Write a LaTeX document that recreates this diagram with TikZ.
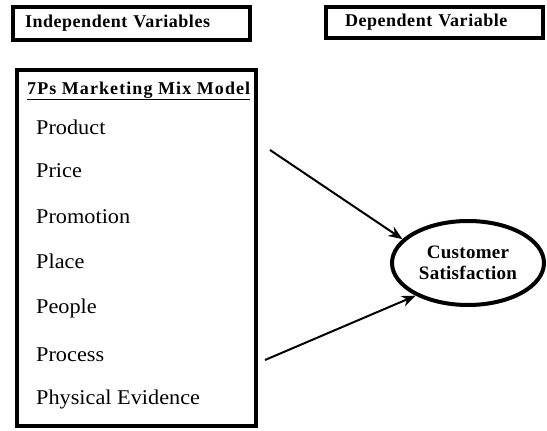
\documentclass[tikz,border=0pt]{standalone}
\usepackage{fontspec}
\setmainfont{Liberation Serif}
\newfontfamily\itemfont[FakeStretch=1.06]{Liberation Serif}
\newfontfamily\headfont[LetterSpace=3]{Liberation Serif}
\newfontfamily\titlefont[LetterSpace=6]{Liberation Serif}
\newfontfamily\ovalfont[LetterSpace=1.5]{Liberation Serif}
\usetikzlibrary{shapes.geometric, arrows.meta}
\tikzset{
varbox/.style={draw, line width=4pt, align=left, font=\headfont\bfseries\fontsize{18}{20}\selectfont}, % the two header boxes
mixbox/.style={draw, line width=4pt, minimum width=239pt, minimum height=356pt}, % the big box of the 7Ps
mixtitle/.style={anchor=base west, inner sep=0pt, font=\titlefont\bfseries\fontsize{18}{20}\selectfont},
mixitem/.style={anchor=base west, inner sep=0pt, font=\itemfont\fontsize{21}{24}\selectfont}, % one P of the mix
outcome/.style={ellipse, draw, line width=4pt, minimum width=152pt, minimum height=84pt, inner sep=0pt, align=center, font=\ovalfont\bfseries\fontsize{19}{21}\selectfont},
link/.style={line width=2pt, -{Stealth[length=14pt, width=11pt]}}, % the arrows
}

\begin{document}
\begin{tikzpicture}[x=1pt, y=-1pt]
\useasboundingbox (0,0) rectangle (547,431);

\node[varbox, minimum height=33pt, inner xsep=12pt, text width=213pt] at (131.5,23.5) (indep) {Independent Variables};
\node[varbox, minimum height=31pt, inner xsep=19pt, text width=179pt] at (434.5,22.5) (dep) {Dependent Variable};

\node[mixbox] at (136.5,248) (mix) {};
\node[mixtitle] at (27,94) (title) {\underline{7Ps Marketing Mix Model}};
\node[mixitem] at (36,134) (product) {Product};
\node[mixitem] at (36,177) (price) {Price};
\node[mixitem] at (36,223) (promotion) {Promotion};
\node[mixitem] at (36,268) (place) {Place};
\node[mixitem] at (36,313) (people) {People};
\node[mixitem] at (36,361) (process) {Process};
\node[mixitem] at (36,404) (evidence) {Physical Evidence};

\node[outcome] at (468,263) (cs) {Customer\\Satisfaction};

\coordinate (from1) at (270,150);
\coordinate (from2) at (265,360);
\draw[link] (from1) -- (cs.160);
\draw[link] (from2) -- (cs.212);

\end{tikzpicture}
\end{document}
